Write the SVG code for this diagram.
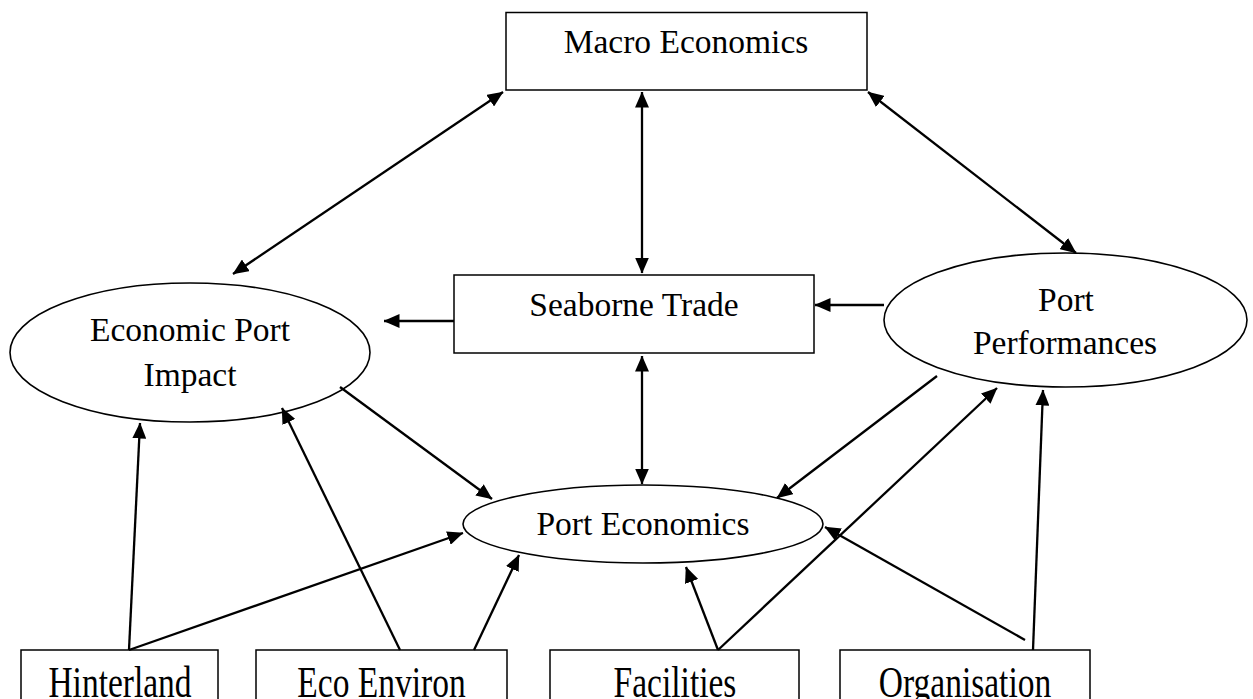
<svg xmlns="http://www.w3.org/2000/svg" width="1253" height="699" viewBox="0 0 1253 699">
<defs>
<style>
.box{fill:#fff;stroke:#000;stroke-width:1.5}
.ell{fill:#fff;stroke:#000;stroke-width:1.6}
.lbl{font-family:"Liberation Serif","Times New Roman",serif;font-size:33.5px;fill:#000;text-anchor:middle}
.c{stroke:#000;stroke-width:2.3;fill:none}
.a{marker-end:url(#ah)}
.d{marker-end:url(#ah);marker-start:url(#ah)}
</style>
<marker id="ah" markerUnits="userSpaceOnUse" markerWidth="16" markerHeight="14" viewBox="0 0 16 14" refX="15.5" refY="7" orient="auto-start-reverse">
<path d="M0,0 L16,7 L0,14 z" fill="#000"/>
</marker>
</defs>
<rect width="1253" height="699" fill="#fff"/>
<g id="macro">
<rect class="box" x="506" y="12.5" width="361" height="77.5"/>
<text class="lbl" x="686" y="53">Macro Economics</text>
</g>
<g id="seaborne">
<rect class="box" x="454" y="275" width="360" height="78"/>
<text class="lbl" x="634" y="316">Seaborne Trade</text>
</g>
<g id="epi">
<ellipse class="ell" cx="190" cy="352.5" rx="180" ry="69.5"/>
<text class="lbl" x="190" y="341">Economic Port</text>
<text class="lbl" x="190" y="386">Impact</text>
</g>
<g id="pp">
<ellipse class="ell" cx="1065.5" cy="320" rx="181.5" ry="67"/>
<text class="lbl" x="1066" y="311">Port</text>
<text class="lbl" x="1065" y="354">Performances</text>
</g>
<g id="pe">
<ellipse class="ell" cx="643" cy="524" rx="180" ry="39"/>
<text class="lbl" x="643" y="535">Port Economics</text>
</g>
<g id="hinterland">
<rect class="box" x="21" y="650" width="197" height="80"/>
<text class="lbl" transform="translate(120 697) scale(1 1.35)" x="0" y="0">Hinterland</text>
</g>
<g id="ecoenv">
<rect class="box" x="256" y="650" width="251" height="80"/>
<text class="lbl" transform="translate(381.5 697) scale(1 1.35)" x="0" y="0">Eco Environ</text>
</g>
<g id="facilities">
<rect class="box" x="550" y="650" width="249" height="80"/>
<text class="lbl" transform="translate(675 697) scale(1 1.35)" x="0" y="0">Facilities</text>
</g>
<g id="organisation">
<rect class="box" x="840" y="650" width="250" height="80"/>
<text class="lbl" transform="translate(965 697) scale(1 1.35)" x="0" y="0">Organisation</text>
</g>
<g id="connectors">
<line class="c d" x1="503" y1="92" x2="233" y2="274"/>
<line class="c d" x1="642" y1="92" x2="642" y2="273"/>
<line class="c d" x1="868" y1="92" x2="1076" y2="253"/>
<line class="c a" x1="454" y1="321" x2="384" y2="321"/>
<line class="c a" x1="884" y1="305" x2="815" y2="305"/>
<line class="c d" x1="642" y1="356" x2="642" y2="484"/>
<line class="c a" x1="340" y1="387" x2="492" y2="499"/>
<line class="c a" x1="937" y1="376" x2="777" y2="498"/>
<line class="c a" x1="129" y1="650" x2="140" y2="423"/>
<line class="c a" x1="129" y1="650" x2="463" y2="533"/>
<line class="c a" x1="400" y1="650" x2="282" y2="408"/>
<line class="c a" x1="474" y1="650" x2="519" y2="555"/>
<line class="c a" x1="718" y1="650" x2="686" y2="567"/>
<line class="c a" x1="718" y1="650" x2="997" y2="388"/>
<line class="c a" x1="1025" y1="640" x2="825" y2="527"/>
<line class="c a" x1="1033" y1="650" x2="1043" y2="390"/>
</g>
</svg>
